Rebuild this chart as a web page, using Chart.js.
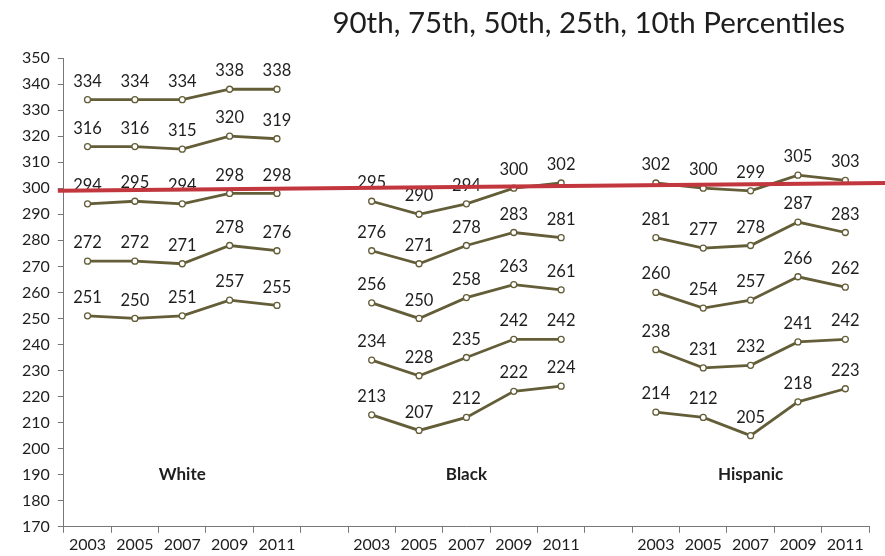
<!DOCTYPE html>
<html>
<head>
<meta charset="utf-8">
<script src="https://cdn.jsdelivr.net/npm/chart.js@4.4.1/dist/chart.umd.min.js"></script>
<style>
  html, body { margin: 0; padding: 0; background: #fff; }
</style>
</head>
<body>
<canvas id="myChart" width="885" height="556"></canvas>
<script>
// data
var years = ['2003', '2005', '2007', '2009', '2011'];
var groups = ['White', 'Black', 'Hispanic'];
var percentiles = ['90th', '75th', '50th', '25th', '10th'];

var white = [
    [334, 334, 334, 338, 338],
    [316, 316, 315, 320, 319],
    [294, 295, 294, 298, 298],
    [272, 272, 271, 278, 276],
    [251, 250, 251, 257, 255]
];
var black = [
    [295, 290, 294, 300, 302],
    [276, 271, 278, 283, 281],
    [256, 250, 258, 263, 261],
    [234, 228, 235, 242, 242],
    [213, 207, 212, 222, 224]
];
var hispanic = [
    [302, 300, 299, 305, 303],
    [281, 277, 278, 287, 283],
    [260, 254, 257, 266, 262],
    [238, 231, 232, 241, 242],
    [214, 212, 205, 218, 223]
];

var redLine = [299, 302];     // hand drawn reference line, left end / right end
var groupLabelValue = 190;    // height of the group names
var titleText = '90th, 75th, 50th, 25th, 10th Percentiles';

var lineColor = '#635d38';
var font = 'Lato, "Open Sans", sans-serif';

// one empty slot between groups
var labels = [];
var groupStart = [];
groups.forEach(function (g, i) {
    if (i > 0) labels.push('');
    groupStart.push(labels.length);
    years.forEach(function (y) { labels.push(y); });
});

var datasets = [];
[white, black, hispanic].forEach(function (grp, gi) {
    grp.forEach(function (vals, pi) {
        var arr = labels.map(function () { return null; });
        vals.forEach(function (v, k) { arr[groupStart[gi] + k] = v; });
        datasets.push({
            label: groups[gi] + ' ' + percentiles[pi],
            data: arr,
            borderColor: lineColor,
            backgroundColor: '#ffffff',
            borderWidth: 2.8,
            pointRadius: 3,
            pointBorderWidth: 1.3,
            pointBackgroundColor: '#ffffff',
            pointBorderColor: lineColor,
            tension: 0
        });
    });
});

var valueLabels = {
    id: 'valueLabels',
    afterDatasetsDraw: function (chart) {
        var ctx = chart.ctx;
        ctx.save();
        ctx.font = '16.5px ' + font;
        ctx.fillStyle = '#1e1e1e';
        ctx.textAlign = 'center';
        ctx.textBaseline = 'bottom';
        chart.data.datasets.forEach(function (ds, i) {
            var meta = chart.getDatasetMeta(i);
            meta.data.forEach(function (pt, k) {
                if (ds.data[k] == null) return;
                ctx.fillText(ds.data[k], pt.x, pt.y - 10);
            });
        });
        ctx.restore();
    }
};

var groupNames = {
    id: 'groupNames',
    afterDatasetsDraw: function (chart) {
        var ctx = chart.ctx;
        var xs = chart.scales.x, ys = chart.scales.y;
        ctx.save();
        ctx.font = 'bold 17px ' + font;
        ctx.fillStyle = '#1e1e1e';
        ctx.textAlign = 'center';
        ctx.textBaseline = 'middle';
        groups.forEach(function (g, i) {
            ctx.fillText(g, xs.getPixelForValue(groupStart[i] + 2), ys.getPixelForValue(groupLabelValue));
        });
        ctx.restore();
    }
};

// title sits to the right, so draw it by hand
var rightTitle = {
    id: 'rightTitle',
    afterDraw: function (chart) {
        var ctx = chart.ctx;
        ctx.save();
        ctx.font = '29.5px ' + font;
        ctx.fillStyle = '#1e1e1e';
        ctx.textAlign = 'right';
        ctx.textBaseline = 'middle';
        ctx.fillText(titleText, chart.width - 40, 23);
        ctx.restore();
    }
};

var redRule = {
    id: 'redRule',
    afterDraw: function (chart) {
        var ctx = chart.ctx;
        var ys = chart.scales.y;
        var a = chart.chartArea;
        ctx.save();
        ctx.strokeStyle = '#c2363d';
        ctx.lineWidth = 4;
        ctx.beginPath();
        ctx.moveTo(a.left - 6, ys.getPixelForValue(redLine[0]));
        ctx.lineTo(chart.width, ys.getPixelForValue(redLine[1]));
        ctx.stroke();
        ctx.restore();
    }
};

var ctx = document.getElementById('myChart').getContext('2d');
window.myChart = new Chart(ctx, {
    type: 'line',
    data: { labels: labels, datasets: datasets },
    options: {
        responsive: false,
        animation: false,
        spanGaps: false,
        layout: { padding: { left: 14, right: 16, top: 58, bottom: 0 } },
        plugins: {
            legend: { display: false },
            tooltip: { enabled: false },
            title: { display: false }
        },
        scales: {
            x: {
                offset: true,
                grid: { display: true, drawOnChartArea: false, offset: true, tickLength: 6, color: '#777' },
                border: { color: '#777', width: 1 },
                ticks: {
                    color: '#1e1e1e',
                    font: { family: font, size: 16 },
                    maxRotation: 0,
                    autoSkip: false,
                    padding: 2
                }
            },
            y: {
                min: 170,
                max: 350,
                grid: { display: true, drawOnChartArea: false, tickLength: 6, color: '#777' },
                border: { color: '#777', width: 1 },
                ticks: {
                    stepSize: 10,
                    color: '#1e1e1e',
                    font: { family: font, size: 16 },
                    padding: 8
                }
            }
        }
    },
    plugins: [valueLabels, groupNames, redRule, rightTitle]
});
</script>
</body>
</html>
